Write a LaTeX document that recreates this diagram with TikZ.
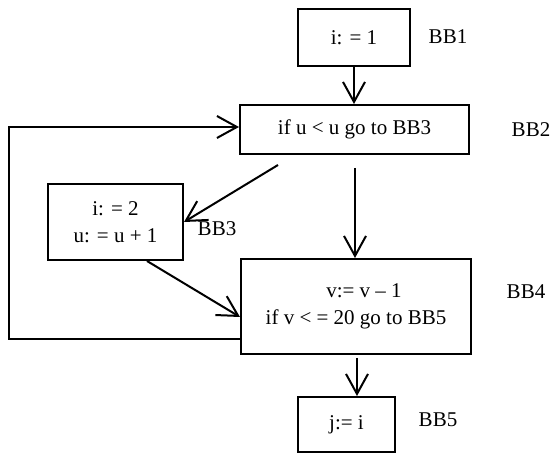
\documentclass[tikz,border=0pt]{standalone}
\usepackage{fontspec}
\setmainfont{Liberation Serif}
\usetikzlibrary{arrows.meta,calc}
\begin{document}
\begin{tikzpicture}[x=0.5pt,y=-0.5pt,
  every node/.style={font=\fontsize{10.5}{13.5}\selectfont, inner sep=0pt},
  block/.style={draw, line width=1pt, align=center},
  arr/.style={line width=1pt, -{Straight Barb[length=10pt,width=11pt,line width=1pt]}},
  tag/.style={anchor=center}]
\useasboundingbox (0,0) rectangle (552,454);

% basic blocks
\node[block, minimum width=56pt, minimum height=28.5pt] (bb1) at (354,37.5) {i: = 1};
\node[block, minimum width=114.5pt, minimum height=24.5pt] (bb2) at (354.5,129.5) {if u < u go to BB3};
\node[block, minimum width=67.5pt, minimum height=38pt] (bb3) at (115.5,222) {i: = 2\\u: = u + 1};
\node[block, minimum width=115pt, minimum height=47.5pt] (bb4) at (356,306.5) {\hspace*{8pt}v:= v – 1\\if v < = 20 go to BB5};
\node[block, minimum width=48.5pt, minimum height=27.5pt] (bb5) at (346.5,424.5) {j:= i};

% block names
\node[tag] (l1) at (448,37) {BB1};
\node[tag] (l2) at (531,130) {BB2};
\node[tag] (l3) at (217,229) {BB3};
\node[tag] (l4) at (526,292) {BB4};
\node[tag] (l5) at (438,420) {BB5};

% edge start points
\coordinate (s23) at (278,165);
\coordinate (s24) at (355,168);
\coordinate (s34) at ($(bb3.south)+(31.5,0)$);
\coordinate (e34) at ($(bb4.west)+(0,10.5)$);
\coordinate (s45) at ($(bb4.south)+(1,3)$);
\coordinate (lpA) at ($(bb4.west)+(0,32.5)$);
\coordinate (lpB) at ($(bb2.west)+(0,-2.5)$);
\coordinate (loopc) at (9,200);

% control-flow edges
\draw[arr] (bb1.south) -- (bb1.south |- bb2.north);
\draw[arr] (s23) -- (bb3.east);
\draw[arr] (s24) -- (s24 |- bb4.north);
\draw[arr] (s34) -- (e34);
\draw[arr] (s45) -- (s45 |- bb5.north);
\draw[arr] (lpA) -| (loopc) |- (lpB);
\end{tikzpicture}
\end{document}
